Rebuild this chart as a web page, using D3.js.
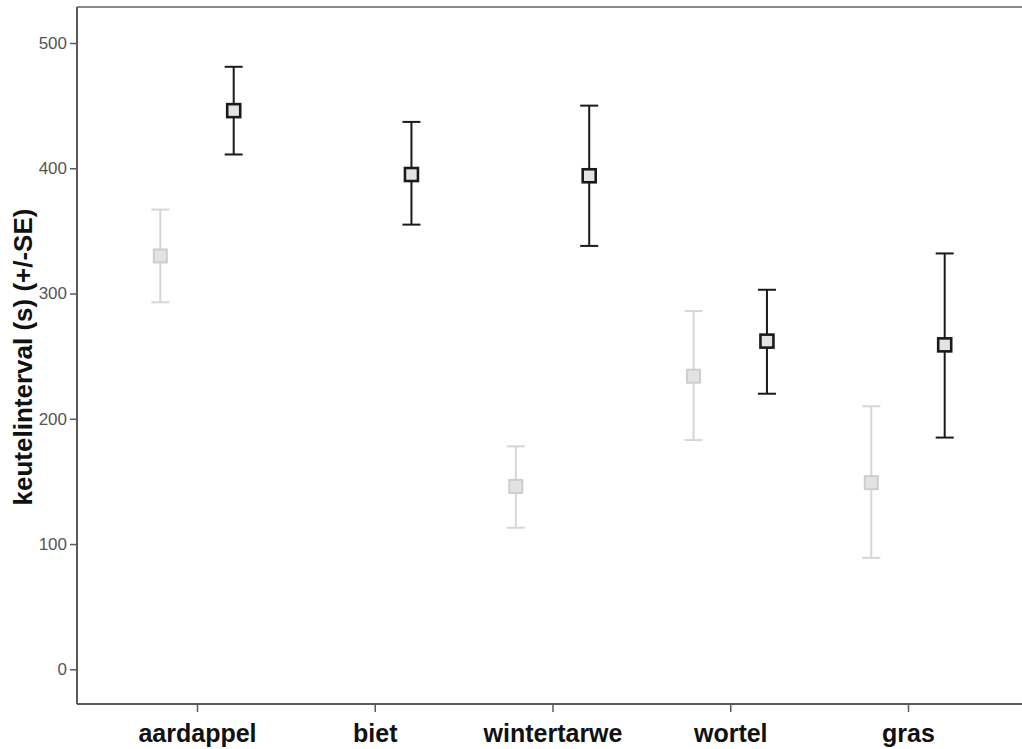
<!DOCTYPE html>
<html>
<head>
<meta charset="utf-8">
<script src="https://cdn.jsdelivr.net/npm/d3@7"></script>
<style>
  html, body { margin: 0; padding: 0; background: #fff; }
  svg { display: block; }
</style>
</head>
<body>
<svg id="chart" width="1022" height="749"></svg>
<script>
// ---- data ----
const categories = ["aardappel", "biet", "wintertarwe", "wortel", "gras"];
const yTicks = [0, 100, 200, 300, 400, 500];
const yLabel = "keutelinterval (s) (+/-SE)";
// series 1 (light grey) : mean, lower (mean-SE), upper (mean+SE); null = missing
const lightMean  = [330, null, 146, 234, 149];
const lightLower = [293, null, 113, 183, 89];
const lightUpper = [367, null, 178, 286, 210];
// series 2 (dark)
const darkMean  = [446, 395, 394, 262, 259];
const darkLower = [411, 355, 338, 220, 185];
const darkUpper = [481, 437, 450, 303, 332];

(function () {
// ---- layout ----
const svg = d3.select("#chart");
const pLeft = 77, pRight = 1030, pTop = 7, pBottom = 704;

const x = d3.scalePoint().domain(categories).range([197, 908]);
const y = d3.scaleLinear().domain([0, 500]).range([669.3, 43]);
const offset = 36.7;

// frame: top border
svg.append("line")
  .attr("x1", pLeft).attr("x2", pRight).attr("y1", pTop).attr("y2", pTop)
  .attr("stroke", "#8a8a8a").attr("stroke-width", 2);

// y axis
const yAxis = svg.append("g")
  .attr("transform", `translate(${pLeft},0)`)
  .call(d3.axisLeft(y).tickValues(yTicks).tickSize(7).tickPadding(3).tickSizeOuter(0));
yAxis.select(".domain").remove();
yAxis.append("line").attr("x1", 0).attr("x2", 0).attr("y1", pTop).attr("y2", pBottom)
  .attr("stroke", "#5a5a5a").attr("stroke-width", 2);
yAxis.selectAll(".tick line").attr("stroke", "#5a5a5a").attr("stroke-width", 1.5);
yAxis.selectAll(".tick text")
  .attr("fill", "#555").attr("font-family", "Liberation Sans, Arial, sans-serif")
  .attr("font-size", 17);

// x axis
const xAxis = svg.append("g")
  .attr("transform", `translate(0,${pBottom})`)
  .call(d3.axisBottom(x).tickSize(8).tickPadding(8).tickSizeOuter(0));
xAxis.select(".domain").remove();
xAxis.append("line").attr("x1", pLeft).attr("x2", pRight).attr("y1", 0).attr("y2", 0)
  .attr("stroke", "#5a5a5a").attr("stroke-width", 2);
xAxis.selectAll(".tick line").attr("stroke", "#5a5a5a").attr("stroke-width", 1.5);
xAxis.selectAll(".tick text")
  .attr("fill", "#111").attr("font-family", "Liberation Sans, Arial, sans-serif")
  .attr("font-weight", "bold").attr("font-size", 25)
  .attr("dy", null).attr("y", 38);

// y label
svg.append("text")
  .attr("transform", "translate(32,357) rotate(-90)")
  .attr("text-anchor", "middle")
  .attr("font-family", "Liberation Sans, Arial, sans-serif")
  .attr("font-weight", "bold").attr("font-size", 26)
  .attr("fill", "#111")
  .text(yLabel);

// series drawing
function build(mean, lower, upper) {
  return categories.map((c, i) => ({ c, m: mean[i], lo: lower[i], hi: upper[i] }))
    .filter(d => d.m != null);
}
const series = [
  { data: build(lightMean, lightLower, lightUpper), dx: -offset, bar: "#d6d6d6", mk: "#cdcdcd", w: 2, mw: 2 },
  { data: build(darkMean, darkLower, darkUpper), dx: offset, bar: "#1a1a1a", mk: "#1a1a1a", w: 2, mw: 2.6 }
];
const capHalf = 9, sq = 13;

series.forEach(s => {
  const g = svg.append("g");
  const items = g.selectAll("g.pt").data(s.data).enter().append("g").attr("class", "pt");
  const cx = d => x(d.c) + s.dx;
  items.append("line")
    .attr("x1", cx).attr("x2", cx)
    .attr("y1", d => y(d.hi)).attr("y2", d => y(d.lo))
    .attr("stroke", s.bar).attr("stroke-width", s.w);
  items.append("line")
    .attr("x1", d => cx(d) - capHalf).attr("x2", d => cx(d) + capHalf)
    .attr("y1", d => y(d.hi)).attr("y2", d => y(d.hi))
    .attr("stroke", s.bar).attr("stroke-width", s.w);
  items.append("line")
    .attr("x1", d => cx(d) - capHalf).attr("x2", d => cx(d) + capHalf)
    .attr("y1", d => y(d.lo)).attr("y2", d => y(d.lo))
    .attr("stroke", s.bar).attr("stroke-width", s.w);
  items.append("rect")
    .attr("x", d => cx(d) - sq / 2).attr("y", d => y(d.m) - sq / 2)
    .attr("width", sq).attr("height", sq)
    .attr("fill", "#e3e3e3").attr("stroke", s.mk).attr("stroke-width", s.mw);
});
})();
</script>
</body>
</html>
